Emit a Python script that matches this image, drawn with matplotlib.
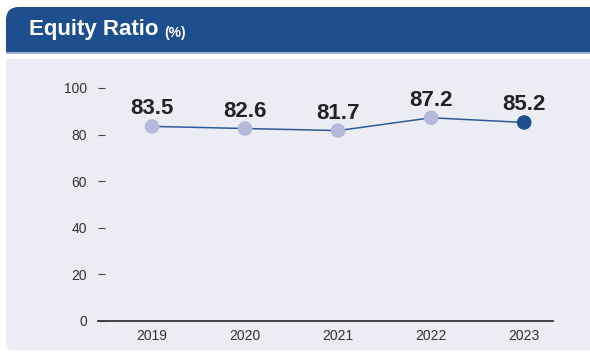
import matplotlib
matplotlib.use("Agg")
import matplotlib.pyplot as plt
from matplotlib.patches import FancyBboxPatch, Rectangle

years = ["2019", "2020", "2021", "2022", "2023"]
ratio = [83.5, 82.6, 81.7, 87.2, 85.2]
y_ticks = [0, 20, 40, 60, 80, 100]

navy = "#1d4f8f"
panel_bg = "#ececf4"
pale = "#b5b9d9"
narrow = ["Liberation Sans Narrow", "Liberation Sans", "DejaVu Sans"]

W, H = 590, 353
fig = plt.figure(figsize=(W / 100, H / 100), dpi=100)
fig.patch.set_facecolor("white")

def px_box(x0, y0, x1, y1):
    # pixel box (top-left origin) -> inches for dpi_scale_trans
    return x0 / 100, (H - y1) / 100, (x1 - x0) / 100, (y1 - y0) / 100

def add_patch(p):
    p.set_zorder(-5)
    fig.patches.append(p)

# header bar
x, y, w, h = px_box(6, 7, 620, 52)
add_patch(FancyBboxPatch((x, y), w, h, boxstyle="round,pad=0,rounding_size=0.13",
                         transform=fig.dpi_scale_trans, fc=navy, ec="none"))
x, y, w, h = px_box(6, 30, 620, 52)
add_patch(Rectangle((x, y), w, h, transform=fig.dpi_scale_trans, fc=navy, ec="none"))
x, y, w, h = px_box(6, 52, 620, 53.5)
add_patch(Rectangle((x, y), w, h, transform=fig.dpi_scale_trans, fc="#9fb2cf", ec="none"))

# gray panel
x, y, w, h = px_box(6, 59, 620, 350)
add_patch(FancyBboxPatch((x, y), w, h, boxstyle="round,pad=0,rounding_size=0.07",
                         transform=fig.dpi_scale_trans, fc=panel_bg, ec="none"))
x, y, w, h = px_box(6, 59, 620, 80)
add_patch(Rectangle((x, y), w, h, transform=fig.dpi_scale_trans, fc=panel_bg, ec="none"))

title = fig.text(29 / W, 1 - 30 / H, "Equity Ratio", color="white", fontsize=16,
                 fontweight="bold", family=narrow, va="center", ha="left")

ax = fig.add_axes([98 / W, (H - 321) / H, (553 - 98) / W, (321 - 70) / H])
ax.set_facecolor("none")
xs = list(range(len(years)))
ax.plot(xs, ratio, color="#2a5a9a", lw=1.1, zorder=2)
colors = [pale] * (len(years) - 1) + [navy]
ax.scatter(xs, ratio, s=110, c=colors, zorder=3, linewidths=0)
for xi, v in zip(xs, ratio):
    ax.annotate(f"{v:.1f}", (xi, v), xytext=(0, 5), textcoords="offset points",
                ha="center", va="bottom", fontsize=16, fontweight="bold",
                family=narrow, color="#222222")

ax.set_xlim(-0.58, 4.31)
ax.set_ylim(0, 107.7)
ax.set_xticks(xs)
ax.set_xticklabels(years, family=narrow, fontsize=10, color="#333333")
ax.set_yticks(y_ticks)
ax.set_yticklabels([str(t) for t in y_ticks], family=narrow, fontsize=10, color="#333333")
ax.tick_params(axis="x", length=0, pad=6)
ax.tick_params(axis="y", direction="in", length=5, width=0.8, color="#444444", pad=8)
for s in ["top", "right", "left"]:
    ax.spines[s].set_visible(False)
ax.spines["bottom"].set_color("#333333")
ax.spines["bottom"].set_linewidth(1.3)

# unit label placed right after the title text
fig.canvas.draw()
bb = title.get_window_extent()
fig.text((bb.x1 + 6) / W, 1 - 33 / H, "(%)", color="white", fontsize=10,
         fontweight="bold", family=narrow, va="center", ha="left")

fig.savefig("out.png", dpi=100)
